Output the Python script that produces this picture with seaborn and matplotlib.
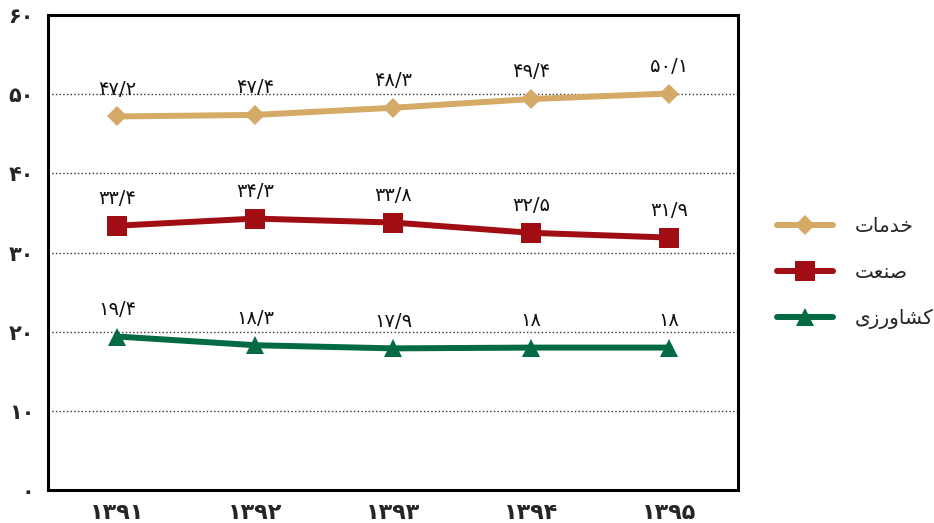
import pandas as pd
import seaborn as sns
import matplotlib.pyplot as plt
from matplotlib.lines import Line2D

years = [1391, 1392, 1393, 1394, 1395]
khadamat = [47.2, 47.4, 48.3, 49.4, 50.1]
sanat = [33.4, 34.3, 33.8, 32.5, 31.9]
keshavarzi = [19.4, 18.3, 17.9, 18, 18]
sector_names = ['خدمات', 'صنعت', 'کشاورزی']
y_ticks = [0, 10, 20, 30, 40, 50, 60]

colors = ['#D4AA66', '#A00D12', '#036A43']
markers = ['D', 's', '^']
marker_sizes = [10, 14, 13.5]

FA_DIGITS = str.maketrans('0123456789', '۰۱۲۳۴۵۶۷۸۹')

# matplotlib has no arabic shaping, so map letters to presentation forms by hand
# (keheh uses the kaf joining forms, DejaVu has no glyph for FB90/FB91)
FORMS = {
    'خ': ('\uFEA5', '\uFEA6', '\uFEA7', '\uFEA8'),
    'د': ('\uFEA9', '\uFEAA', None, None),
    'م': ('\uFEE1', '\uFEE2', '\uFEE3', '\uFEE4'),
    'ا': ('\uFE8D', '\uFE8E', None, None),
    'ت': ('\uFE95', '\uFE96', '\uFE97', '\uFE98'),
    'ص': ('\uFEB9', '\uFEBA', '\uFEBB', '\uFEBC'),
    'ن': ('\uFEE5', '\uFEE6', '\uFEE7', '\uFEE8'),
    'ع': ('\uFEC9', '\uFECA', '\uFECB', '\uFECC'),
    'ک': ('\u06A9', '\u06A9', '\uFEDB', '\uFEDC'),
    'ش': ('\uFEB5', '\uFEB6', '\uFEB7', '\uFEB8'),
    'و': ('\uFEED', '\uFEEE', None, None),
    'ر': ('\uFEAD', '\uFEAE', None, None),
    'ز': ('\uFEAF', '\uFEB0', None, None),
    'ی': ('\uFBFC', '\uFBFD', '\uFBFE', '\uFBFF'),
}


def shape(word):
    out = []
    for i, ch in enumerate(word):
        iso, fin, ini, med = FORMS[ch]
        prev_joins = i > 0 and FORMS[word[i - 1]][2] is not None
        next_joins = i < len(word) - 1 and ini is not None
        if prev_joins and next_joins:
            out.append(med)
        elif prev_joins:
            out.append(fin)
        elif next_joins:
            out.append(ini)
        else:
            out.append(iso)
    return ''.join(reversed(out))


def fa_num(v):
    return f'{v:g}'.replace('.', '/').translate(FA_DIGITS)


rows = []
for name, vals in zip(sector_names, [khadamat, sanat, keshavarzi]):
    for i, v in enumerate(vals):
        rows.append({'sector': name, 'x': i, 'value': v})
df = pd.DataFrame(rows)

sns.set_style('white')
plt.rcParams['font.family'] = ['DejaVu Sans']

fig = plt.figure(figsize=(9.34, 5.23), dpi=100)
ax = fig.add_axes([0.0514, 0.063, 0.7388, 0.908])

for name, c, m, ms in zip(sector_names, colors, markers, marker_sizes):
    sub = df[df['sector'] == name]
    sns.lineplot(data=sub, x='x', y='value', color=c,
                 marker=m, markersize=ms, markeredgewidth=0, linewidth=4.3,
                 ax=ax, legend=False)
    for _, r in sub.iterrows():
        ax.annotate(fa_num(r['value']), (r['x'], r['value']),
                    xytext=(0, 19.5), textcoords='offset points',
                    ha='center', va='center', fontsize=14, color='#111')

ax.set_xlim(-0.5, 4.5)
ax.set_ylim(0, 60)
ax.set_xticks(range(len(years)))
ax.set_xticklabels([str(y).translate(FA_DIGITS) for y in years],
                   fontsize=16, fontweight='bold')
ax.set_yticks(y_ticks)
ax.set_yticklabels([str(t).translate(FA_DIGITS) for t in y_ticks],
                   fontsize=15, fontweight='bold')
ax.set_xlabel('')
ax.set_ylabel('')
ax.tick_params(axis='y', length=6, width=1, pad=4, color='#222')
ax.tick_params(axis='x', length=0, pad=9)
ax.yaxis.grid(True, linestyle=':', color='#333', linewidth=1)
ax.xaxis.grid(False)
for side in ['left', 'right', 'top', 'bottom']:
    ax.spines[side].set_visible(True)
    ax.spines[side].set_color('black')
    ax.spines[side].set_linewidth(2.2)

handles = [Line2D([], [], color=c, marker=m, markersize=ms, markeredgewidth=0,
                  linewidth=4.3, solid_capstyle='round')
           for c, m, ms in zip(colors, markers, marker_sizes)]
fig.legend(handles, [shape(n) for n in sector_names],
           loc='center left', bbox_to_anchor=(0.812, 0.478), frameon=False,
           handlelength=2.8, handletextpad=1.1, labelspacing=1.35,
           prop={'size': 14.5})

fig.savefig('out.png', dpi=100)
